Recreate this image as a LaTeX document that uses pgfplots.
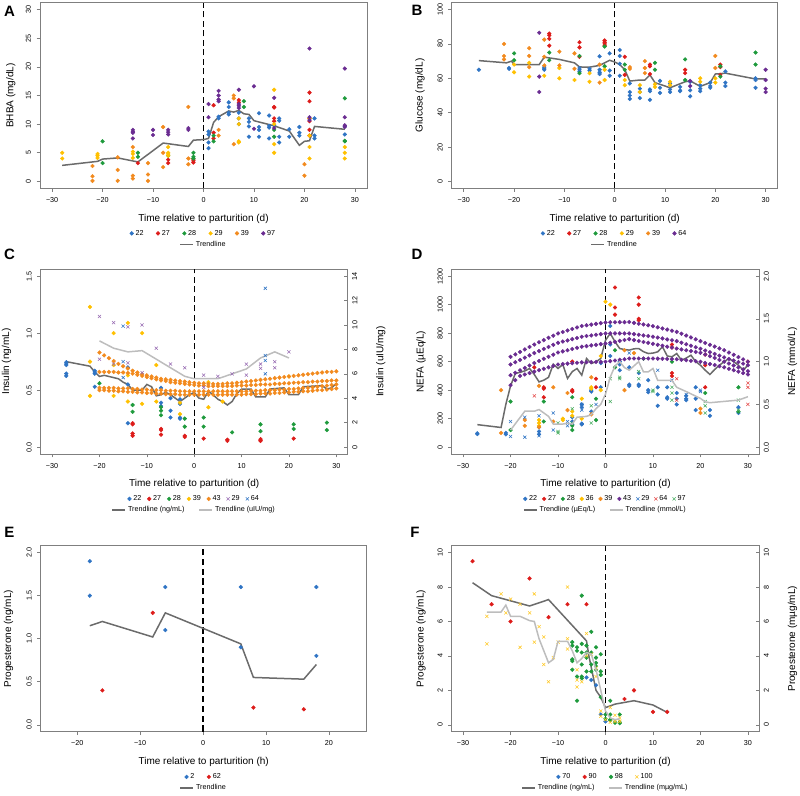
\documentclass[border=0pt]{standalone}
\usepackage{pgfplots}
\usepackage{pgfplotstable}
\pgfplotsset{compat=1.18}
\usepackage{fontspec}
\setmainfont{Liberation Sans}
\newcommand{\tf}{\fontsize{7.2}{8.6}\selectfont}
\definecolor{cblue}{HTML}{2F74C4}
\definecolor{cred}{HTML}{DD1C1A}
\definecolor{cgreen}{HTML}{1E9A3C}
\definecolor{cyellow}{HTML}{FFC000}
\definecolor{corange}{HTML}{F28A1E}
\definecolor{cpurple}{HTML}{6A2C91}
\definecolor{tdark}{HTML}{6B6B6B}
\definecolor{tlight}{HTML}{BDBDBD}
\definecolor{boxgray}{HTML}{7F7F7F}

\pgfplotsset{
  rbase/.style={scale only axis, anchor=south west,
    axis line style={boxgray, line width=0.7pt},
    tick align=outside, major tick length=3.5pt,
    tick style={boxgray, line width=0.6pt},
    xtick pos=left, ytick pos=left,
    ticklabel style={font=\tf},
    xticklabel style={yshift=-2pt},
    yticklabel style={xshift=-2pt, rotate=90, anchor=south},
    label style={font=\tf},
    every axis x label/.style={at={(axis description cs:0.5,-0.163)},anchor=center},
    legend style={draw=none, fill=none, font=\tf, at={(0.5,-0.243)}, anchor=center,
      /tikz/every even column/.append style={column sep=10.5pt}},
  },
  ylab/.style={every axis y label/.style={at={(axis description cs:-#1,0.5)},rotate=90,anchor=center}},
  rtwin/.style={scale only axis, anchor=south west,
    axis x line=none, axis y line*=right,
    axis line style={boxgray, line width=0.7pt},
    tick align=inside, major tick length=3.5pt,
    tick style={boxgray, line width=0.6pt},
    ticklabel style={font=\tf},
    yticklabel style={xshift=1pt, rotate=90, anchor=north},
    label style={font=\tf},
    every axis y label/.style={at={(axis description cs:1.108,0.5)},rotate=90,anchor=center},
  },
  legax/.style={scale only axis, anchor=south west, hide axis,
    xmin=0,xmax=1,ymin=0,ymax=1,
    legend style={draw=none, fill=none, font=\tf, at={(0.5,-0.303)}, anchor=center,
      /tikz/every even column/.append style={column sep=12pt}}},
  scat/.style={only marks, mark=*, mark size=1.9pt,
    legend image code/.code={\draw[mark repeat=2, mark phase=2, ##1] plot coordinates {(0pt,0pt)(5pt,0pt)(10pt,0pt)};}},
  crs/.style={only marks, mark=x, mark size=2.2pt, line width=0.55pt,
    legend image code/.code={\draw[mark repeat=2, mark phase=2, ##1] plot coordinates {(0pt,0pt)(5pt,0pt)(10pt,0pt)};}},
  trend/.style={line width=1.5pt, no marks,
    legend image code/.code={\draw[##1] (0pt,0pt) -- (13pt,0pt);}},
  vdash/.style={black, line width=1.4pt, dash pattern=on 6pt off 3.5pt, forget plot, no marks},
}

\pgfplotstableread{
x c1 c2 c3 c4
-20 0.83 0.66 0.52 0.50
-19 0.805 0.66 0.52 0.50
-18 0.78 0.66 0.52 0.495
-17 0.755 0.66 0.52 0.495
-16 0.73 0.655 0.515 0.49
-15 0.71 0.655 0.515 0.49
-14 0.69 0.65 0.515 0.485
-13 0.67 0.645 0.51 0.485
-12 0.655 0.635 0.51 0.48
-11 0.64 0.625 0.505 0.48
-10 0.63 0.615 0.505 0.475
-9 0.62 0.605 0.50 0.475
-8 0.61 0.595 0.50 0.47
-7 0.60 0.585 0.50 0.47
-6 0.595 0.58 0.495 0.465
-5 0.59 0.57 0.495 0.465
-4 0.585 0.565 0.495 0.465
-3 0.58 0.56 0.49 0.46
-2 0.575 0.555 0.49 0.46
-1 0.57 0.55 0.49 0.46
0 0.565 0.545 0.49 0.46
1 0.56 0.54 0.49 0.46
2 0.56 0.54 0.49 0.46
3 0.555 0.535 0.49 0.46
4 0.555 0.535 0.49 0.46
5 0.555 0.535 0.49 0.46
6 0.555 0.535 0.49 0.46
7 0.56 0.535 0.49 0.46
8 0.56 0.535 0.49 0.46
9 0.565 0.54 0.49 0.46
10 0.57 0.54 0.49 0.46
11 0.575 0.54 0.49 0.465
12 0.58 0.545 0.495 0.465
13 0.585 0.545 0.495 0.465
14 0.59 0.55 0.495 0.47
15 0.595 0.55 0.50 0.47
16 0.60 0.55 0.50 0.47
17 0.605 0.555 0.50 0.475
18 0.61 0.555 0.505 0.475
19 0.615 0.56 0.505 0.48
20 0.62 0.56 0.51 0.48
21 0.625 0.565 0.51 0.485
22 0.63 0.565 0.515 0.485
23 0.635 0.57 0.52 0.49
24 0.64 0.57 0.52 0.49
25 0.645 0.575 0.525 0.495
26 0.65 0.575 0.53 0.50
27 0.655 0.58 0.535 0.50
28 0.66 0.58 0.54 0.505
29 0.66 0.585 0.545 0.51
30 0.665 0.585 0.55 0.515
}\insorange

\pgfplotstableread{
x p1 p2 p3 p4
-20 634 580 505 435
-19 651 596 522 470
-18 668 612 539 500
-17 686 628 556 510
-16 703 644 573 520
-15 720 660 590 530
-14 736 674 605 540
-13 751 689 620 550
-12 767 703 634 560
-11 782 718 649 570
-10 798 732 664 580
-9 808 741 672 583
-8 819 749 680 586
-7 829 758 689 589
-6 840 766 697 592
-5 850 775 705 595
-4 855 780 709 596
-3 860 784 714 597
-2 865 789 718 598
-1 870 793 723 598
0 875 798 727 599
1 876 798 733 604
2 876 798 739 608
3 877 798 746 613
4 877 798 752 617
5 878 798 758 622
6 872 793 751 622
7 866 789 745 622
8 861 784 738 622
9 855 780 732 622
10 849 775 725 622
11 841 769 718 621
12 833 763 712 620
13 825 756 705 619
14 817 750 699 618
15 809 744 692 617
16 796 733 686 613
17 783 722 680 610
18 770 712 674 606
19 757 701 668 603
20 744 690 662 599
21 731 678 650 591
22 718 666 638 583
23 706 654 626 576
24 693 642 612 568
25 680 630 600 560
26 664 619 587 550
27 648 608 573 540
28 632 597 560 530
29 616 586 546 520
30 600 575 533 510
}\nefapurple

\begin{document}
\begin{tikzpicture}
\useasboundingbox (0,0) rectangle (800pt,795pt);

% ---------------- Panel A ----------------
\begin{axis}[rbase, ylab=0.089, at={(40pt,606.7pt)}, width=327pt, height=185.6pt,
  xmin=-32.4, xmax=32.4, ymin=-1.2, ymax=31.2,
  xtick={-30,-20,-10,0,10,20,30}, xticklabels={−30,−20,−10,0,10,20,30},
  ytick={0,5,10,15,20,25,30}, yticklabels={0,5,10,15,20,25,30},
  xlabel={Time relative to parturition (d)}, ylabel={BHBA (mg/dL)},
  legend columns=6]
\addplot[vdash] coordinates {(0,-1.2)(0,31.2)};
\addplot[scat, cblue] coordinates {(1,8.7)(1,8.2)(1,6.8)(1,5.8)(3,11)(3,11.3)(5,13.8)(5,13)(5,12)(5,11.7)(7,12)(7,11)(7,10)(9,11)(9,10.4)(9,9.6)(9,7.8)(11,11.9)(11,9.5)(11,9)(11,7.8)(13,11.5)(13,9.7)(13,9.4)(13,7.5)(14,9.8)(15,11)(15,10.6)(15,7.8)(15,6.8)(17,9.1)(17,7.8)(19,9.5)(19,8.5)(19,8)(22,11)(22,8)(22,7.5)(28,9.6)(28,8.2)};
\addlegendentry{22}
\addplot[scat, cred] coordinates {(-13,3.2)(-7,3.2)(-7,3.8)(-2,3.9)(-2,3.6)(-2,3.3)(2,13.3)(2,8.5)(2,7.5)(7,14.2)(7,13.8)(14,13)(14,12.9)(14,11)(14,10.5)(21,15.5)(21,14)(21,11)(21,10.5)(21,9)(21,8)};
\addlegendentry{27}
\addplot[scat, cgreen] coordinates {(-20,7)(-20,3.2)(-13,5)(-13,4.3)(-7,4.5)(-2,5)(-2,4.3)(-2,4)(2,8)(2,7)(8,14)(8,13)(14,9)(14,7.8)(28,14.5)(28,7)(28,7.1)};
\addlegendentry{28}
\addplot[scat, cyellow] coordinates {(-28,5)(-28,4)(-21,4.8)(-21,4.5)(-21,4.1)(-14,5.2)(-14,4.8)(-14,4.1)(-7,6)(-7,5)(-7,4.8)(-7,4.5)(7,11)(7,10)(7,7)(7,6.8)(14,16)(14,10)(14,6.5)(14,5)(21,11)(21,8)(21,6)(21,4)(28,6)(28,5)(28,4)};
\addlegendentry{29}
\addplot[scat, corange] coordinates {(-22,2.7)(-22,0.9)(-22,0.1)(-17,4.2)(-17,2)(-17,0.1)(-14,6)(-14,1)(-14,0.5)(-11,3.2)(-11,1.2)(-11,0.1)(-8,9.5)(-8,5)(-8,2.5)(-3,13)(-3,4)(-3,3)(3,9)(3,8)(6,15)(6,14.5)(6,6.5)(20,3)(20,1)};
\addlegendentry{39}
\addplot[scat, cpurple] coordinates {(-14,9)(-14,8.7)(-14,8.5)(-14,7.5)(-10,9)(-10,8.1)(-7,9)(-7,8.6)(-7,8.2)(-3,9.3)(-3,9)(1,13.5)(1,11.2)(3,15.8)(3,15)(3,14.3)(3,14)(7,16)(7,13.5)(7,13.2)(7,12.8)(10,16.6)(10,9.2)(14,14.6)(14,9.3)(21,23.2)(21,11.2)(21,10.7)(28,19.7)(28,11.2)(28,9.8)(28,9.5)};
\addlegendentry{97}
\addplot[trend, tdark, forget plot] coordinates {(-28,2.8)(-21,3.5)(-20,3.9)(-17,4.1)(-13,3.4)(-8,6.7)(-3,6.1)(-2,7.2)(0,7.3)(1,7.5)(2,10.3)(3,11.3)(5,12.3)(6,12.1)(7,12.4)(8,11.8)(9,11.7)(10,10.6)(14,9.7)(17,8.8)(19,6.3)(20,7)(21,7.1)(22,9.6)(28,9.1)};
\end{axis}
\begin{axis}[legax, at={(40pt,606.7pt)}, width=327pt, height=185.6pt]
\addlegendimage{trend, tdark}\addlegendentry{Trendline}
\end{axis}

% ---------------- Panel B ----------------
\begin{axis}[rbase, ylab=0.097, at={(451.7pt,606.7pt)}, width=326pt, height=185.6pt,
  xmin=-32.4, xmax=32.4, ymin=-4, ymax=104,
  xtick={-30,-20,-10,0,10,20,30}, xticklabels={−30,−20,−10,0,10,20,30},
  ytick={0,20,40,60,80,100}, yticklabels={0,20,40,60,80,100},
  xlabel={Time relative to parturition (d)}, ylabel={Glucose (mg/dL)},
  legend columns=6]
\addplot[vdash] coordinates {(0,-4)(0,104)};
\addplot[scat, cblue] coordinates {(-27,65)(-21,66)(-21,65.5)(-14,66.5)(-14,65.5)(-14,65)(-7,66)(-7,65)(-7,64)(-5,65.5)(-5,64.5)(-3,72.8)(-3,65)(-3,63.5)(-3,62.5)(-1,74.5)(-1,64.5)(-1,61.5)(1,76.5)(1,73)(1,68.5)(1,61.5)(3,57)(3,52)(3,50)(3,48)(5,54)(5,52)(5,48.5)(7,53.5)(7,52.5)(7,47.5)(9,58.5)(9,54.5)(9,51.5)(11,57)(11,53.5)(11,52)(13,55)(13,53)(13,52.5)(15,58)(15,53)(15,49.5)(17,56)(17,54)(17,52.5)(19,57.5)(19,55.5)(19,54.5)(22,64)(22,57.5)(22,55.5)(28,60)(28,59)(28,54.5)};
\addlegendentry{22}
\addplot[scat, cred] coordinates {(-13,86)(-13,85)(-13,83)(-13,79)(-7,81)(-7,78)(-7,72.5)(-2,82)(-2,81)(-2,80)(-2,79)(2,72.5)(2,62)(7,68)(7,67)(7,62.5)(14,65)(14,63)(21,68)(21,66.5)(21,62)};
\addlegendentry{27}
\addplot[scat, cgreen] coordinates {(-20,74.5)(-20,70.5)(-13,75)(-13,70.5)(-7,73)(-7,63)(-2,78.5)(-2,67)(2,68)(2,65)(8,69)(8,65)(14,71)(14,59)(21,67)(21,61)(28,75)(28,68)};
\addlegendentry{28}
\addplot[scat, cyellow] coordinates {(-20,68)(-20,63.5)(-17,69)(-17,61)(-14,61.5)(-11,66)(-11,60)(-8,59)(-5,63)(-5,58)(-2,65)(-2,59)(2,59)(2,56)(5,56)(5,52)(8,56.5)(8,55)(11,58)(11,56)(17,60)(17,58)(20,60)(20,57.5)};
\addlegendentry{29}
\addplot[scat, corange] coordinates {(-22,80)(-22,73)(-22,71)(-17,77.5)(-17,73)(-17,66.5)(-14,82.5)(-14,72.5)(-14,67.5)(-11,75.5)(-11,67.5)(-8,74.5)(-8,65.5)(-3,68)(-3,57.5)(3,66.5)(3,65.5)(6,70)(6,66)(6,63)(20,73)(20,66)};
\addlegendentry{39}
\addplot[scat, cpurple] coordinates {(-15,86.5)(-15,61)(-15,52)(15,58.5)(15,55.5)(30,65)(30,59)(30,54)(30,52)};
\addlegendentry{64}
\addplot[trend, tdark, forget plot] coordinates {(-27,70.3)(-21.5,69)(-20.5,70)(-20,68)(-15,68)(-14,72.3)(-11,71)(-8,69)(-7,66.6)(-5,66.5)(-3,67.5)(-1,70.5)(0,69.5)(1,68)(2,65)(3,58.4)(5,59)(6,59)(7,62)(8,57.5)(11,54.5)(14,58)(15,58.5)(17,55.3)(19,57.5)(20,62.5)(21,62.7)(22,63)(28,59.6)(30,59.7)};
\end{axis}
\begin{axis}[legax, at={(451.7pt,606.7pt)}, width=326pt, height=185.6pt]
\addlegendimage{trend, tdark}\addlegendentry{Trendline}
\end{axis}

% ---------------- Panel C ----------------
\begin{axis}[rbase, ylab=0.111, at={(40.7pt,341pt)}, width=307pt, height=184.7pt,
  xmin=-32.4, xmax=32.4, ymin=-0.06, ymax=1.56,
  xtick={-30,-20,-10,0,10,20,30}, xticklabels={−30,−20,−10,0,10,20,30},
  ytick={0,0.5,1,1.5}, yticklabels={0.0,0.5,1.0,1.5},
  xlabel={Time relative to parturition (d)}, ylabel={Insulin (ng/mL)},
  legend columns=7, legend style={/tikz/every even column/.append style={column sep=4pt}}]
\addplot[vdash] coordinates {(0,-0.06)(0,1.56)};
\addplot[scat, cblue] coordinates {(-27,0.745)(-27,0.73)(-27,0.72)(-27,0.645)(-27,0.625)(-21,0.67)(-21,0.66)(-21,0.645)(-21,0.53)(-14,0.70)(-14,0.55)(-14,0.21)(-7,0.52)(-7,0.39)(-7,0.36)(-5,0.43)(-5,0.32)(-5,0.26)(-3,0.42)(-3,0.38)(-3,0.26)(-3,0.25)};
\addlegendentry{22}
\addplot[scat, cred] coordinates {(-13,0.21)(-13,0.20)(-13,0.12)(-13,0.10)(-7,0.16)(-7,0.15)(-7,0.11)(-2,0.10)(-2,0.09)(2,0.075)(7,0.065)(7,0.055)(14,0.07)(14,0.06)(14,0.055)(21,0.075)};
\addlegendentry{27}
\addplot[scat, cgreen] coordinates {(-20,0.56)(-13,0.37)(-13,0.31)(-7,0.35)(-7,0.32)(-7,0.28)(-2,0.25)(-2,0.18)(2,0.26)(2,0.18)(8,0.13)(14,0.20)(14,0.14)(21,0.20)(21,0.16)(28,0.215)(28,0.15)};
\addlegendentry{28}
\addplot[scat, cyellow] coordinates {(-22,1.23)(-22,0.75)(-22,0.45)(-17,1.0)(-17,0.72)(-17,0.45)(-14,1.09)(-14,0.63)(-14,0.40)(-11,1.0)(-11,0.38)(-8,0.72)(-8,0.40)(-3,0.39)(-3,0.29)(3,0.57)(3,0.35)(6,0.40)(20,0.62)};
\addlegendentry{39}
\addplot[scat, corange] table[x=x, y=c1] {\insorange};
\addlegendentry{43}
\addplot[scat, corange, forget plot] table[x=x, y=c2] {\insorange};
\addplot[scat, corange, forget plot] table[x=x, y=c3] {\insorange};
\addplot[scat, corange, forget plot] table[x=x, y=c4] {\insorange};
\addlegendimage{crs, cpurple!70}\addlegendentry{29}
\addlegendimage{crs, cblue}\addlegendentry{64}
\addplot[trend, tdark, forget plot] coordinates {(-27,0.75)(-22,0.71)(-21,0.66)(-20,0.62)(-19,0.63)(-17,0.61)(-16,0.60)(-15,0.57)(-14,0.55)(-13,0.50)(-11,0.50)(-10,0.55)(-9,0.53)(-8,0.45)(-7,0.46)(-6,0.48)(-5,0.46)(-4,0.43)(-3,0.40)(-2,0.43)(-1,0.46)(0,0.48)(1,0.43)(2,0.42)(3,0.49)(4,0.46)(5,0.42)(6,0.40)(7,0.37)(8,0.40)(9,0.47)(10,0.51)(12,0.51)(13,0.44)(15,0.44)(16,0.51)(19,0.52)(20,0.46)(22,0.46)(23,0.53)(27,0.54)(28,0.51)(29,0.52)(30,0.56)};
\end{axis}
\begin{axis}[rtwin, at={(40.7pt,341pt)}, width=307pt, height=184.7pt,
  xmin=-32.4, xmax=32.4, ymin=-0.56, ymax=14.56,
  ytick={0,2,4,6,8,10,12,14}, yticklabels={0,2,4,6,8,10,12,14},
  ylabel={Insulin (uIU/mg)}]
\addplot[crs, cpurple!70, forget plot] coordinates {(-20,10.7)(-20,7.2)(-17,10.2)(-17,6.8)(-14,9.85)(-14,6.9)(-11,10.0)(-11,6.1)(-8,8.1)(-5,6.8)(-2,6.5)(2,5.9)(2,4.9)(5,5.8)(8,6.0)(11,6.8)(11,5.9)(14,6.8)(14,6.45)(17,7.0)(17,6.5)(20,7.8)};
\addplot[crs, cblue, forget plot] coordinates {(-15,9.9)(-15,7.0)(-15,5.7)(15,13)(15,7.5)(15,7.1)(15,6.0)};
\addplot[trend, tlight, forget plot] coordinates {(-20,8.7)(-17,8.1)(-14,7.8)(-11,7.9)(-8,7.2)(-5,6.5)(-2,5.8)(0,5.6)(3,5.6)(5,5.6)(8,6.0)(11,6.4)(14,7.3)(17,7.8)(20,7.3)};
\end{axis}
\begin{axis}[legax, at={(40.7pt,341pt)}, width=307pt, height=184.7pt, legend columns=2]
\addlegendimage{trend, tdark}\addlegendentry{Trendline (ng/mL)}
\addlegendimage{trend, tlight}\addlegendentry{Trendline (uIU/mg)}
\end{axis}

% ---------------- Panel D ----------------
\begin{axis}[rbase, ylab=0.10, at={(451.7pt,341pt)}, width=307.6pt, height=184.7pt,
  xmin=-32.4, xmax=32.4, ymin=-48, ymax=1248,
  xtick={-30,-20,-10,0,10,20,30}, xticklabels={−30,−20,−10,0,10,20,30},
  ytick={0,200,400,600,800,1000,1200}, yticklabels={0,200,400,600,800,1000,1200},
  xlabel={Time relative to parturition (d)}, ylabel={NEFA (µEq/L)},
  legend columns=9, legend style={/tikz/every even column/.append style={column sep=3pt}}]
\addplot[vdash] coordinates {(0,-48)(0,1248)};
\addplot[scat, cblue] coordinates {(-27,97)(-27,92)(-21,100)(-21,90)(-14,140)(-14,110)(-14,90)(-7,210)(-7,180)(-7,160)(-5,300)(-5,280)(-5,165)(-5,160)(-3,400)(-3,390)(-3,250)(-1,590)(-1,420)(1,850)(1,720)(1,640)(3,600)(3,580)(3,540)(5,560)(5,440)(5,430)(7,520)(7,440)(7,430)(9,470)(9,400)(9,385)(11,420)(11,370)(11,290)(13,420)(13,350)(13,340)(15,380)(15,340)(15,300)(17,360)(17,340)(17,330)(19,420)(19,340)(19,260)(22,260)(22,220)(28,280)(28,240)};
\addlegendentry{22}
\addplot[scat, cred] coordinates {(-15,560)(-13,420)(-13,410)(-13,350)(-7,600)(-7,400)(-7,390)(-2,480)(-2,420)(2,1120)(2,980)(2,930)(7,1050)(7,1000)(7,900)(7,890)(14,720)(14,700)(14,520)(14,500)(21,650)(21,575)(21,420)(30,600)};
\addlegendentry{27}
\addplot[scat, cgreen] coordinates {(-20,320)(-20,120)(-13,320)(-13,180)(-7,350)(-7,150)(-7,120)(-2,340)(-2,190)(2,680)(2,560)(8,620)(14,600)(21,380)(28,420)(28,250)};
\addlegendentry{28}
\addplot[scat, cyellow] coordinates {(-14,190)(-14,170)(-14,150)(-9,200)(-9,190)(-7,250)(-7,220)(-5,340)(-5,200)(-3,420)(-3,410)(-1,640)(-1,400)(0,1020)(1,1000)};
\addlegendentry{36}
\addplot[scat, corange] coordinates {(-22,400)(-22,100)(-17,190)(-17,150)(-14,430)(-14,140)(-11,420)(-11,180)(-8,380)(-8,260)(-3,490)(-3,230)(4,680)(4,400)(6,660)(20,270)(20,240)};
\addlegendentry{39}
\addplot[scat, cpurple] table[x=x, y=p1] {\nefapurple};
\addlegendentry{43}
\addplot[scat, cpurple, forget plot] table[x=x, y=p2] {\nefapurple};
\addplot[scat, cpurple, forget plot] table[x=x, y=p3] {\nefapurple};
\addplot[scat, cpurple, forget plot] table[x=x, y=p4] {\nefapurple};
\addplot[crs, cblue] coordinates {(-20,180)(-20,75)(-17,210)(-17,70)(-14,220)(-14,80)(-11,240)(-11,120)(-8,180)(-8,150)(-5,300)(-5,260)(-2,300)(5,660)(11,540)(14,470)(17,370)(20,400)(20,390)};
\addlegendentry{29}
\addplot[crs, cred!80] coordinates {(-15,360)(15,480)(15,330)(30,450)(30,420)(30,300)};
\addlegendentry{64}
\addplot[crs, cgreen!80] coordinates {(-10,170)(-10,110)(-10,100)(-7,270)(-7,170)(-3,290)(-3,170)(1,480)(1,320)(3,490)(3,480)(7,530)(7,480)(10,400)(10,390)(14,420)(14,380)(14,330)(21,320)(21,290)(21,240)(28,330)(28,260)};
\addlegendentry{97}
\addplot[trend, tdark, forget plot] coordinates {(-27,158)(-22,138)(-21,300)(-20,430)(-19,517)(-18,525)(-17,535)(-16,552)(-15,510)(-14,458)(-13,470)(-12,490)(-11,582)(-10,552)(-9,580)(-8,482)(-7,530)(-6,552)(-5,505)(-4,622)(-3,587)(-2,599)(-1,622)(0,750)(1,798)(2,740)(3,692)(4,685)(5,681)(6,690)(7,692)(8,670)(9,657)(10,660)(11,669)(12,704)(13,640)(14,634)(15,657)(16,610)(17,625)(18,645)(19,600)(20,575)(21,540)(22,510)(23,545)(24,575)(25,600)(26,622)(27,600)(28,575)(29,540)(30,575)};
\end{axis}
\begin{axis}[rtwin, at={(451.7pt,341pt)}, width=307.6pt, height=184.7pt,
  xmin=-32.4, xmax=32.4, ymin=-0.08, ymax=2.08,
  ytick={0,0.5,1,1.5,2}, yticklabels={0.0,0.5,1.0,1.5,2.0},
  ylabel={NEFA (mmol/L)}]
\addplot[trend, tlight, forget plot] coordinates {(-20,0.20)(-17,0.42)(-15,0.42)(-14,0.44)(-12,0.36)(-11,0.27)(-9,0.27)(-8,0.28)(-7,0.27)(-6,0.35)(-4,0.36)(-3,0.38)(-2,0.45)(-1,0.5)(0,0.62)(1,0.82)(2,0.95)(3,1.0)(4,0.93)(5,0.9)(6,0.95)(7,1.0)(8,0.88)(9,0.88)(10,0.92)(11,0.78)(14,0.78)(15,0.7)(17,0.65)(20,0.57)(21,0.53)(22,0.52)(28,0.55)(30,0.59)};
\end{axis}
\begin{axis}[legax, at={(451.7pt,341pt)}, width=307.6pt, height=184.7pt, legend columns=2]
\addlegendimage{trend, tdark}\addlegendentry{Trendline (µEq/L)}
\addlegendimage{trend, tlight}\addlegendentry{Trendline (mmol/L)}
\end{axis}

% ---------------- Panel E ----------------
\begin{axis}[rbase, ylab=0.099, at={(40.7pt,63.3pt)}, width=326pt, height=186pt,
  xmin=-25.8, xmax=26, ymin=-0.08, ymax=2.08,
  xtick={-20,-10,0,10,20}, xticklabels={−20,−10,0,10,20},
  ytick={0,0.5,1,1.5,2}, yticklabels={0.0,0.5,1.0,1.5,2.0},
  xlabel={Time relative to parturition (h)}, ylabel={Progesterone (ng/mL)},
  legend columns=2]
\addplot[black, line width=1.4pt, dash pattern=on 6.2pt off 3.6pt, forget plot, no marks] coordinates {(0.01,-0.079)(0.01,2.079)};
\addplot[scat, cblue] coordinates {(-18,1.9)(-18,1.5)(-6,1.6)(-6,1.1)(6,1.6)(6,0.9)(18,1.6)(18,0.8)};
\addlegendentry{2}
\addplot[scat, cred] coordinates {(-16,0.4)(-8,1.3)(8,0.2)(16,0.18)};
\addlegendentry{62}
\addplot[trend, tdark, forget plot] coordinates {(-18,1.15)(-16,1.2)(-8,1.02)(-6,1.3)(6,0.94)(8,0.55)(16,0.53)(18,0.7)};
\end{axis}
\begin{axis}[legax, at={(40.7pt,63.3pt)}, width=326pt, height=186pt]
\addlegendimage{trend, tdark}\addlegendentry{Trendline}
\end{axis}

% ---------------- Panel F ----------------
\begin{axis}[rbase, ylab=0.10, at={(451.7pt,63.3pt)}, width=307.6pt, height=186pt,
  xmin=-32.4, xmax=32.4, ymin=-0.4, ymax=10.4,
  xtick={-30,-20,-10,0,10,20,30}, xticklabels={−30,−20,−10,0,10,20,30},
  ytick={0,2,4,6,8,10}, yticklabels={0,2,4,6,8,10},
  xlabel={Time relative to parturition (d)}, ylabel={Progesterone (ng/mL)},
  legend columns=4]
\addplot[vdash] coordinates {(0,-0.4)(0,10.4)};
\addplot[scat, cblue] coordinates {(-4,2.75)(-3,2.6)(-2,2.3)(-1,0.6)(0,0.2)};
\addlegendentry{70}
\addplot[scat, cred] coordinates {(-28,9.5)(-24,7)(-20,6)(-16,8.5)(-12,6.25)(-8,7)(-4,7)(4,1.5)(6,2)(10,0.75)(13,0.75)};
\addlegendentry{90}
\addplot[scat, cgreen] coordinates {(-7,4.8)(-7,4.6)(-7,3.8)(-7,3.7)(-7,3.2)(-6,4.5)(-6,4.3)(-6,2.8)(-6,1.4)(-5,7.5)(-5,4.7)(-5,4.2)(-5,3.5)(-5,2.8)(-5,2.7)(-4,4.6)(-4,4.2)(-4,3.9)(-4,3.1)(-3,5.4)(-3,4.2)(-3,3.5)(-3,3.1)(-2,4.5)(-2,3.9)(-2,3.6)(-2,3.4)(-2,3.2)(-1,4.1)(-1,3.1)(-1,2.9)(-1,1.6)(0,0.6)(0,0.35)(1,1.4)(1,0.6)(1,0.3)(1,0.25)(2,0.15)(2,0.12)(3,0.6)(3,0.15)(3,0.1)};
\addlegendentry{98}
\addplot[crs, cyellow!85] coordinates {(-25,6.3)(-25,4.7)(-22,7.6)(-21,6.5)(-20,7.3)(-18,7)(-18,4.5)(-16,6.5)(-15,7.6)(-15,4.8)(-14,5.7)(-13,5.1)(-13,3.5)(-12,2.5)(-11,3.9)(-10,4.8)(-8,8)(-8,5)(-8,4.4)(-6,3.2)(-6,2.6)(-6,2.2)(-5,2.5)(-4,5.3)(-4,4)(-3,4.1)(-2,3.3)(-2,2.8)(-1,0.8)(-1,0.5)(0,0.3)(1,1.0)(1,0.15)(2,0.55)(2,0.2)(3,0.4)(3,0.2)};
\addlegendentry{100}
\addplot[trend, tdark, forget plot] coordinates {(-28,8.25)(-24,7.5)(-16,6.9)(-12,7.27)(-4,4.87)(-3.5,4.0)(-2,2.0)(-1,1.6)(0,1.0)(1,1.1)(2,1.2)(6,1.4)(10,1.15)(13,0.72)};
\end{axis}
\begin{axis}[rtwin, at={(451.7pt,63.3pt)}, width=307.6pt, height=186pt,
  xmin=-32.4, xmax=32.4, ymin=-0.4, ymax=10.4,
  ytick={0,2,4,6,8,10}, yticklabels={0,2,4,6,8,10},
  ylabel={Progesterone (mµg/mL)}]
\addplot[trend, tlight, forget plot] coordinates {(-25,6.55)(-22,6.55)(-21,6.95)(-20,6.3)(-18,6.3)(-16,6.05)(-15,6.0)(-14,5.0)(-13,4.3)(-12,3.6)(-11,3.8)(-10,4.85)(-8,4.85)(-7,4.3)(-6,3.6)(-5,3.85)(-4,4.2)(-3,4.1)(-2,3.2)(-1,2.0)(0,0.8)(1,0.4)(2,0.3)(3,0.35)};
\end{axis}
\begin{axis}[legax, at={(451.7pt,63.3pt)}, width=307.6pt, height=186pt, legend columns=2]
\addlegendimage{trend, tdark}\addlegendentry{Trendline (ng/mL)}
\addlegendimage{trend, tlight}\addlegendentry{Trendline (mµg/mL)}
\end{axis}

% panel letters
\begin{scope}[every node/.style={font=\fontsize{15}{15}\selectfont\bfseries, inner sep=0pt}]
\node at (9.5pt,783.7pt) {A};
\node at (417pt,784.5pt) {B};
\node at (9.5pt,541pt) {C};
\node at (417pt,541pt) {D};
\node at (9.5pt,262.5pt) {E};
\node at (415pt,263pt) {F};
\end{scope}
\end{tikzpicture}
\end{document}
